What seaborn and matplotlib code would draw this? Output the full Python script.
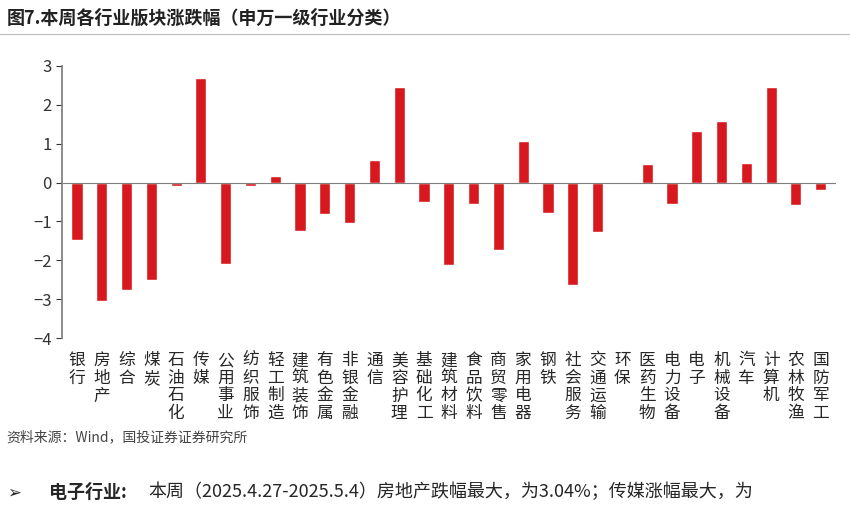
import matplotlib
matplotlib.use("Agg")
import matplotlib.pyplot as plt
import seaborn as sns
import pandas as pd

industries = ["银行", "房地产", "综合", "煤炭", "石油石化", "传媒", "公用事业", "纺织服饰",
              "轻工制造", "建筑装饰", "有色金属", "非银金融", "通信", "美容护理", "基础化工",
              "建筑材料", "食品饮料", "商贸零售", "家用电器", "钢铁", "社会服务", "交通运输",
              "环保", "医药生物", "电力设备", "电子", "机械设备", "汽车", "计算机", "农林牧渔",
              "国防军工"]
changes = [-1.48, -3.04, -2.75, -2.50, -0.10, 2.69, -2.08, -0.08, 0.17, -1.25, -0.80,
           -1.05, 0.59, 2.46, -0.50, -2.13, -0.54, -1.72, 1.08, -0.78, -2.62, -1.28,
           -0.03, 0.48, -0.55, 1.33, 1.58, 0.50, 2.46, -0.57, -0.18]

sns.set_theme(style="white")
plt.rcParams['font.family'] = ['Noto Sans CJK SC', 'DejaVu Sans']
plt.rcParams['axes.unicode_minus'] = False

df = pd.DataFrame({"industry": industries, "change": changes})

fig = plt.figure(figsize=(8.5, 5.18), dpi=100)
ax = fig.add_axes([0.073, 0.347, 0.91, 0.526])
sns.barplot(data=df, x="industry", y="change", color="#d7191f", width=0.45,
            saturation=1, ax=ax)

ax.set_ylim(-4, 3)
ax.set_xlim(-0.6, len(industries) - 0.4)
ax.set_yticks(range(-4, 4))
ax.set_yticklabels([str(v) if v >= 0 else "−" + str(-v) for v in range(-4, 4)], fontsize=12)
ax.set_xticks(range(len(industries)))
ax.set_xticklabels(["\n".join(s) for s in industries], fontsize=12, linespacing=1.05,
                   va="top")
ax.tick_params(axis="x", length=0, pad=10)
ax.tick_params(axis="y", length=4, direction="out", left=True, width=0.8, colors="#333333")
ax.axhline(0, color="#7f7f7f", lw=0.8)
for s in ["top", "right", "bottom"]:
    ax.spines[s].set_visible(False)
ax.spines["left"].set_color("#7f7f7f")
ax.set_xlabel("")
ax.set_ylabel("")

fig.text(0.008, 0.965, "图7.本周各行业版块涨跌幅（申万一级行业分类）", fontsize=13,
         fontweight="bold", va="center", color="#222222")
fig.add_artist(plt.Line2D([0.0, 1.0], [0.935, 0.935], color="#bbbbbb", lw=0.8))
fig.text(0.008, 0.155, "资料来源：Wind，国投证券证券研究所", fontsize=10, style="italic",
         color="#444444", va="center")
fig.text(0.008, 0.05, "➢", fontsize=12, va="center", family=["DejaVu Sans"])
fig.text(0.058, 0.05, "电子行业:", fontsize=13, fontweight="bold", va="center")
fig.text(0.175, 0.05, "本周（2025.4.27-2025.5.4）房地产跌幅最大，为3.04%；传媒涨幅最大，为",
         fontsize=13, va="center")

fig.savefig("out.png", dpi=100)
